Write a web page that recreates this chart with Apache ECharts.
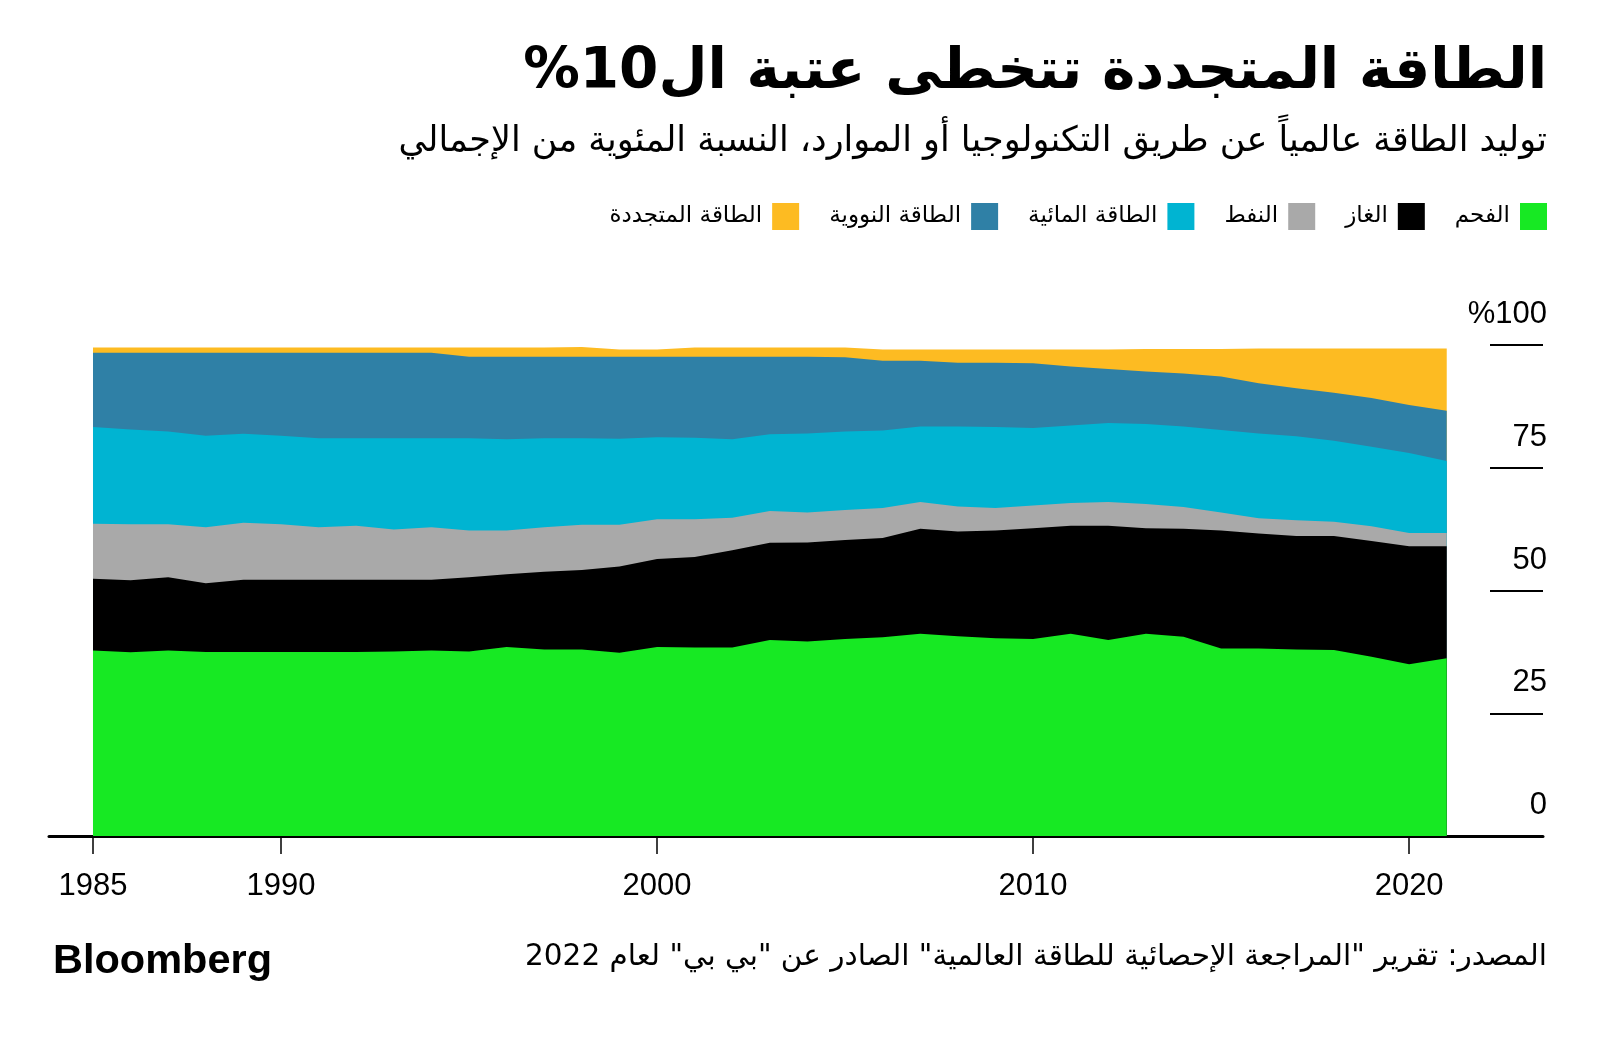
<!DOCTYPE html>
<html>
<head>
<meta charset="utf-8">
<script src="https://cdn.jsdelivr.net/npm/echarts@6/dist/echarts.min.js"></script>
<style>
html,body{margin:0;padding:0;background:#fff;}
#chart{width:1600px;height:1038px;}
canvas{direction:rtl;}
</style>
</head>
<body>
<div id="chart"></div>
<script>
const years = [1985,1986,1987,1988,1989,1990,1991,1992,1993,1994,1995,1996,1997,1998,1999,2000,2001,2002,2003,2004,2005,2006,2007,2008,2009,2010,2011,2012,2013,2014,2015,2016,2017,2018,2019,2020,2021];
const coal    = [37.8,37.4,37.8,37.5,37.5,37.5,37.5,37.5,37.6,37.8,37.6,38.5,38.0,38.0,37.3,38.5,38.4,38.4,39.9,39.6,40.1,40.5,41.2,40.7,40.3,40.1,41.2,39.9,41.2,40.6,38.2,38.2,38.0,37.9,36.5,35.0,36.2];
const gas     = [14.6,14.7,14.9,14.0,14.7,14.7,14.7,14.7,14.6,14.4,15.1,14.8,15.8,16.2,17.6,17.9,18.4,19.8,19.8,20.2,20.2,20.2,21.4,21.3,21.9,22.6,22.0,23.3,21.5,22.0,24.0,23.4,23.1,23.2,23.6,24.0,22.8];
const oil     = [11.2,11.4,10.8,11.4,11.6,11.3,10.7,11.0,10.2,10.7,9.5,8.9,9.1,9.2,8.5,8.1,7.7,6.6,6.5,6.1,6.1,6.1,5.4,5.1,4.6,4.6,4.6,4.8,4.9,4.4,3.7,3.1,3.2,2.9,3.0,2.7,2.7];
const hydro   = [19.7,19.3,18.9,18.6,18.1,18.0,18.1,17.8,18.6,18.1,18.8,18.6,18.1,17.6,17.5,16.7,16.6,16.0,15.6,16.1,16.0,15.8,15.4,16.3,16.5,15.8,15.8,16.1,16.3,16.4,16.8,17.3,17.1,16.5,16.2,16.3,14.7];
const nuclear = [15.1,15.6,16.0,16.9,16.5,16.9,17.4,17.4,17.4,17.4,16.6,16.8,16.6,16.6,16.7,16.4,16.5,16.8,15.8,15.6,15.1,14.2,13.4,13.0,13.1,13.2,12.0,11.0,10.7,10.8,10.9,10.2,9.8,9.8,9.9,9.8,10.2];
const renew   = [1.1,1.1,1.1,1.1,1.1,1.1,1.1,1.1,1.1,1.1,1.9,1.9,1.9,2.0,1.5,1.5,1.9,1.9,1.9,1.9,2.0,2.3,2.3,2.7,2.7,2.8,3.5,4.0,4.6,5.0,5.6,7.1,8.1,9.0,10.1,11.5,12.7];

const seriesNames = ['الفحم','الغاز','النفط','الطاقة المائية','الطاقة النووية','الطاقة المتجددة'];
const seriesData = [coal, gas, oil, hydro, nuclear, renew];
const colors = ['#17e923','#000000','#a9a9a9','#00b4d2','#2f80a6','#fdbb22'];
const xTickLabels = [1985,1990,2000,2010,2020];
const yTickLabels = {0:'0',25:'25',50:'50',75:'75',100:'%100'};

const titleText = 'الطاقة المتجددة تتخطى عتبة ال10%';
const subtitleText = 'توليد الطاقة عالمياً عن طريق التكنولوجيا أو الموارد، النسبة المئوية من الإجمالي';
const sourceText = 'المصدر: تقرير "المراجعة الإحصائية للطاقة العالمية" الصادر عن "بي بي" لعام 2022';

const arFont = '"DejaVu Sans", sans-serif';
const numFont = '"Liberation Sans", Arial, sans-serif';

// cumulative tops of each band (stacking done here, each band drawn as area to 0, top bands first)
const cumulative = [];
seriesData.forEach((arr, i) => {
  cumulative.push(arr.map((v, k) => +(v + (i ? cumulative[i-1][k] : 0)).toFixed(2)));
});

const series = seriesNames.map((n,i)=>({
  name:n, type:'line', symbol:'none', smooth:false, z: 10 - i,
  lineStyle:{width:0}, itemStyle:{color:colors[i]},
  areaStyle:{color:colors[i], opacity:1},
  data: years.map((y,k)=>[y, cumulative[i][k]])
})).reverse();

const chart = echarts.init(document.getElementById('chart'), null, {renderer:'canvas'});
chart.setOption({
  backgroundColor:'#fff',
  animation:false,
  title:[
    {text:titleText, right:53, top:40, padding:0, textStyle:{fontFamily:arFont, fontWeight:'bold', fontSize:56.5, lineHeight:66, color:'#000'}},
    {text:subtitleText, right:53, top:121, padding:0, textStyle:{fontFamily:arFont, fontWeight:'normal', fontSize:35, lineHeight:42, color:'#000'}},
    {text:sourceText, right:53, top:938, padding:0, textStyle:{fontFamily:arFont, fontWeight:'normal', fontSize:29.5, lineHeight:38, color:'#000'}},
    {text:'Bloomberg', left:53, top:940, padding:0, textStyle:{fontFamily:numFont, fontWeight:'bold', fontSize:41.5, lineHeight:44, color:'#000'}}
  ],
  legend:{
    right:53, top:203, align:'right', itemWidth:27, itemHeight:27, itemGap:30, padding:0,
    icon:'rect',
    data: seriesNames.slice().reverse(),
    textStyle:{fontFamily:arFont, fontSize:23, color:'#000', padding:[0,5,0,0]}
  },
  grid:{left:49, right:57, top:345, bottom:202, containLabel:false},
  xAxis:{
    type:'value', min:1983.83, max:2023.56,
    splitLine:{show:false},
    axisLine:{show:true, lineStyle:{color:'#000', width:3}},
    axisTick:{show:true, customValues:xTickLabels, length:18, lineStyle:{color:'#000', width:1.5}},
    axisLabel:{customValues:xTickLabels, margin:35, fontFamily:numFont, fontSize:31, color:'#000', formatter:v=>String(v)}
  },
  yAxis:{
    type:'value', min:0, max:100, interval:25, position:'right',
    splitLine:{show:false},
    axisLine:{show:false},
    axisTick:{show:true, inside:true, length:53, lineStyle:{color:'#000', width:2}},
    axisLabel:{inside:true, margin:-4, fontFamily:numFont, fontSize:31, color:'#000', verticalAlign:'bottom', lineHeight:31, padding:[0,0,15,0], formatter:v=>yTickLabels[v]}
  },
  series: series
});
</script>
</body>
</html>
